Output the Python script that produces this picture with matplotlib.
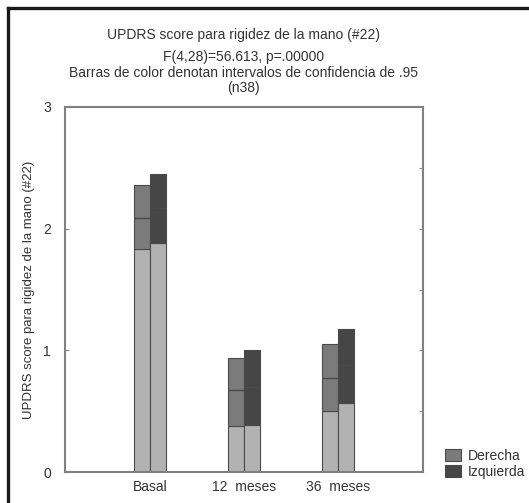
import matplotlib
matplotlib.use("Agg")
import matplotlib.pyplot as plt
import matplotlib.patches as mpatches
from matplotlib.lines import Line2D
import numpy as np

plt.rcParams["font.family"] = ["Liberation Sans", "DejaVu Sans"]

# datos
categorias = ["Basal", "12  meses", "36  meses"]
series = ["Derecha", "Izquierda"]
media_der = [2.09, 0.67, 0.77]
inf_der = [1.83, 0.38, 0.50]
sup_der = [2.36, 0.94, 1.055]
media_izq = [2.17, 0.695, 0.877]
inf_izq = [1.88, 0.385, 0.565]
sup_izq = [2.45, 1.006, 1.178]

color_base = "#b2b2b2"
colores = ["#7b7b7b", "#464646"]
borde = "#4a4a4a"
texto = "#333333"

fig = plt.figure(figsize=(5.29, 5.03), dpi=100)
ax = fig.add_axes([65 / 529, 31 / 503, 358 / 529, 365 / 503])

x = np.arange(1, len(categorias) + 1)
ancho = 0.17
datos = [(media_der, inf_der, sup_der), (media_izq, inf_izq, sup_izq)]
for k, (media, inf, sup) in enumerate(datos):
    xs = x + (k - 0.5) * ancho
    inf = np.array(inf)
    sup = np.array(sup)
    ax.bar(xs, inf, width=ancho, color=color_base, edgecolor=borde, linewidth=0.8)
    ax.bar(xs, sup - inf, bottom=inf, width=ancho, color=colores[k],
           edgecolor=borde, linewidth=0.8)
    ax.hlines(media, xs - ancho / 2, xs + ancho / 2, color=borde, linewidth=1.0)

ax.set_xlim(0.1, 3.9)
ax.set_ylim(0, 3)
ax.set_xticks(x)
ax.set_xticklabels(categorias, fontsize=10, color=texto)
ax.set_yticks([0, 1, 2, 3])
ax.set_yticklabels(["0", "1", "2", "3"], fontsize=10, color=texto)
ax.tick_params(axis="x", length=0, pad=6)
ax.tick_params(axis="y", direction="in", length=3, color="#888888", pad=10)
for s in ax.spines.values():
    s.set_color("#808080")
    s.set_linewidth(1.5)
ax.set_ylabel("UPDRS score para rigidez de la mano (#22)", fontsize=9.5,
              color=texto)
ax.yaxis.set_label_coords(-0.085, 0.5)

# ticks del eje derecho
ax2 = ax.twinx()
ax2.set_ylim(0, 3)
ax2.set_yticks([0.5, 1, 1.5, 2, 2.5])
ax2.tick_params(axis="y", direction="in", length=3, color="#888888", labelright=False)
for s in ax2.spines.values():
    s.set_visible(False)

# títulos
fig.text(0.46, 1 - 35 / 503, "UPDRS score para rigidez de la mano (#22)",
         ha="center", va="center", fontsize=10, color=texto)
fig.text(0.46, 1 - 57 / 503, "F(4,28)=56.613, p=.00000",
         ha="center", va="center", fontsize=10, color=texto)
fig.text(0.46, 1 - 73 / 503, "Barras de color denotan intervalos de confidencia de .95",
         ha="center", va="center", fontsize=10, color=texto)
fig.text(0.46, 1 - 88 / 503, "(n38)",
         ha="center", va="center", fontsize=10, color=texto)

# leyenda
handles = [mpatches.Patch(facecolor=colores[i], edgecolor=borde, linewidth=0.8)
           for i in range(len(series))]
fig.legend(handles, series, loc="upper left", bbox_to_anchor=(432 / 529, 1 - 436 / 503),
           frameon=False, fontsize=10, handlelength=1.2, handleheight=1.0,
           handletextpad=0.5, labelspacing=0.15, labelcolor=texto)

# marco exterior
fig.add_artist(Line2D([8 / 529, 8 / 529], [0, 1 - 8 / 503], color="#1a1a1a",
                      linewidth=2.4, transform=fig.transFigure))
fig.add_artist(Line2D([8 / 529, 1], [1 - 8 / 503, 1 - 8 / 503], color="#1a1a1a",
                      linewidth=2.4, transform=fig.transFigure))

fig.savefig("out.png", dpi=100)
